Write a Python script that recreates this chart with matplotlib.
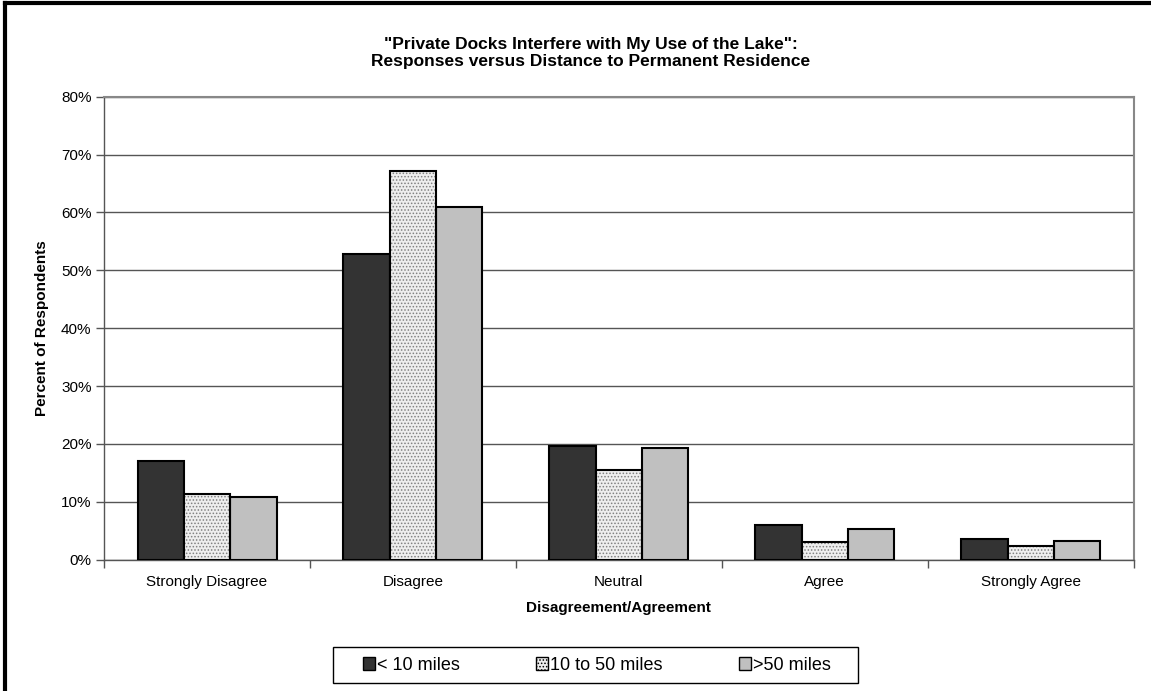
import numpy as np
import matplotlib
matplotlib.use('Agg')
import matplotlib.pyplot as plt
from matplotlib.lines import Line2D
from matplotlib.patches import Patch, Rectangle

# Données
categories = ['Strongly Disagree', 'Disagree', 'Neutral', 'Agree', 'Strongly Agree']
series_names = ['< 10 miles', '10 to 50 miles', '>50 miles']
under_10 = [17.1, 52.8, 19.7, 6.0, 3.6]
from_10_to_50 = [11.4, 67.1, 15.5, 3.1, 2.4]
over_50 = [10.9, 60.9, 19.3, 5.3, 3.3]
y_ticks = [0, 10, 20, 30, 40, 50, 60, 70, 80]

plt.rcParams['font.family'] = ['Liberation Sans', 'DejaVu Sans']
plt.rcParams['hatch.linewidth'] = 0.7

fig = plt.figure(figsize=(11.51, 6.91), dpi=100)
ax = fig.add_axes([0.0904, 0.190, 0.8946, 0.670])

x = np.arange(len(categories))
w = 0.225

# barres
ax.bar(x - w, under_10, w, color='#333333', edgecolor='black', linewidth=1.5, zorder=3)
ax.bar(x, from_10_to_50, w, color='#eeeeee', edgecolor='#808080', hatch='.....', linewidth=0, zorder=3)
ax.bar(x, from_10_to_50, w, facecolor='none', edgecolor='black', linewidth=1.5, zorder=4)
ax.bar(x + w, over_50, w, color='#c0c0c0', edgecolor='black', linewidth=1.5, zorder=3)

ax.set_xlim(-0.5, len(categories) - 0.5)
ax.set_ylim(0, 80)
ax.set_yticks(y_ticks)
ax.set_yticklabels([str(t) + '%' for t in y_ticks], fontsize=11)
ax.yaxis.grid(True, color='#555555', linewidth=1.0, zorder=0)
ax.set_axisbelow(True)

# ticks de l'axe x entre les catégories
ax.set_xticks(np.arange(len(categories) + 1) - 0.5)
ax.set_xticklabels([])
ax.set_xticks(x, minor=True)
ax.set_xticklabels(categories, minor=True, fontsize=11)
ax.tick_params(axis='x', which='minor', length=0, pad=11)
ax.tick_params(axis='x', which='major', length=6, width=1, color='#555555', direction='out')
ax.tick_params(axis='y', length=6, width=1, color='#555555', direction='out', pad=3)

for s in ['top', 'right']:
    ax.spines[s].set_color('#888888')
    ax.spines[s].set_linewidth(1.5)
for s in ['left', 'bottom']:
    ax.spines[s].set_color('#555555')
    ax.spines[s].set_linewidth(1.0)

ax.set_xlabel('Disagreement/Agreement', fontsize=11, fontweight='bold', labelpad=9)
ax.set_ylabel('Percent of Respondents', fontsize=11, fontweight='bold', labelpad=9)

fig.text(0.513, 0.923, '"Private Docks Interfere with My Use of the Lake":\nResponses versus Distance to Permanent Residence',
         ha='center', va='center', fontsize=12.5, fontweight='bold', linespacing=1.2)

# légende sans cadre + cadre dessiné à part
handles = [Patch(facecolor='#333333', edgecolor='black'),
           Patch(facecolor='#eeeeee', edgecolor='black', hatch='.....'),
           Patch(facecolor='#c0c0c0', edgecolor='black')]
leg = fig.legend(handles, series_names, loc='center', bbox_to_anchor=(0.5185, 0.0376), ncol=3,
                 fontsize=13, frameon=False, handlelength=0.7, handleheight=0.7,
                 handletextpad=0.1, columnspacing=4.2)
fig.add_artist(Rectangle((0.2893, 0.0116), 0.456, 0.052, transform=fig.transFigure,
                         facecolor='none', edgecolor='black', linewidth=1.0))

# bordure du graphique (gauche et haut)
fig.add_artist(Line2D([0.004, 0.004], [0, 0.996], color='black', linewidth=3, transform=fig.transFigure))
fig.add_artist(Line2D([0.004, 1.0], [0.996, 0.996], color='black', linewidth=3, transform=fig.transFigure))

fig.savefig('out.png', dpi=100)
